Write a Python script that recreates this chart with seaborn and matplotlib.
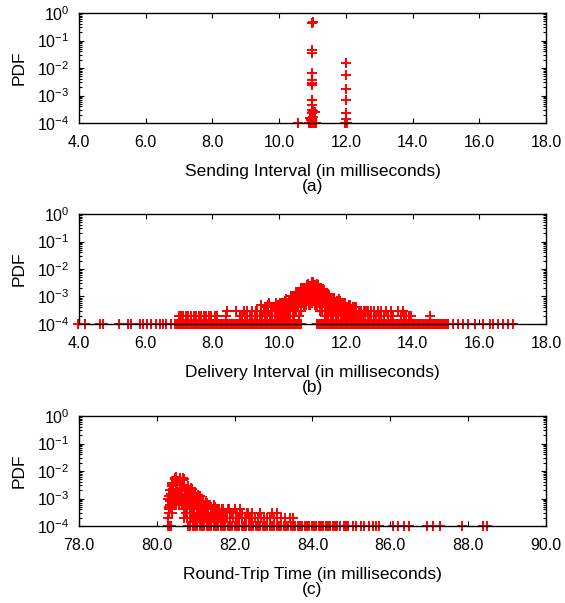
import numpy as np
import pandas as pd
import matplotlib
matplotlib.use('Agg')
import matplotlib.pyplot as plt
import seaborn as sns
from matplotlib.ticker import FormatStrFormatter, LogLocator, MultipleLocator, NullFormatter

sns.set_style('ticks')
plt.rcParams['font.family'] = ['Liberation Sans', 'DejaVu Sans']
plt.rcParams['mathtext.default'] = 'regular'
plt.rcParams['text.color'] = 'black'
plt.rcParams['axes.labelcolor'] = 'black'
plt.rcParams['xtick.color'] = 'black'
plt.rcParams['ytick.color'] = 'black'

# pdf values are given as counts of 1e-4 (the smallest pdf step)
UNIT = 1e-4

# ---- (a) sending interval ----
a_x = [11.0, 10.98, 11.02, 11.0, 11.0, 11.0, 11.0, 11.0, 11.0, 11.0, 11.0,
       10.98, 11.02, 11.0, 11.08, 11.03, 10.93, 10.97, 11.0,
       10.9, 10.95, 11.0, 11.05, 11.1, 10.56,
       12.0, 12.0, 12.0, 12.0, 12.0, 12.0, 11.97, 12.03]
a_pdf = [0.45, 0.44, 0.46, 0.045, 0.035, 0.0066, 0.0036, 0.0029, 0.0024, 0.0007, 0.00045,
         0.0003, 0.00028, 0.00023, 0.00025, 0.00017, 0.00015, 0.00013, 0.00012,
         0.0001, 0.0001, 0.0001, 0.0001, 0.0001, 0.0001,
         0.015, 0.0056, 0.0017, 0.0007, 0.00023, 0.00014, 0.0001, 0.0001]

# ---- (b) delivery interval ----
b_x_1 = [3.98, 4.18, 4.63, 4.73, 5.20, 5.47, 5.57, 5.82, 5.92, 6.04, 6.17, 6.32, 6.42,
         6.52, 6.62, 6.77, 6.87,
         6.95, 7.00, 7.05, 7.10, 7.15, 7.20, 7.25, 7.30, 7.35, 7.40, 7.45, 7.50, 7.55,
         7.60, 7.65, 7.70, 7.75, 7.80, 7.85, 7.90, 7.95, 8.00, 8.05, 8.10, 8.15, 8.20,
         8.25, 8.30, 8.35, 8.40, 8.45, 8.50, 8.55, 8.60, 8.65, 8.70, 8.75, 8.80, 8.85,
         8.90, 8.95, 9.00, 9.05, 9.10, 9.15, 9.20, 9.25, 9.30, 9.35, 9.40, 9.45, 9.50,
         9.55, 9.60, 9.65, 9.70, 9.75, 9.80, 9.85, 9.90, 9.95, 10.00, 10.05, 10.10,
         10.15, 10.20, 10.25, 10.30, 10.35, 10.40, 10.45, 10.50, 10.55, 10.60, 10.65,
         11.15, 11.20, 11.25, 11.30, 11.35, 11.40, 11.45, 11.50, 11.55, 11.60, 11.65,
         11.70, 11.75, 11.80, 11.85, 11.90, 11.95, 12.00, 12.05, 12.10, 12.15, 12.20,
         12.25, 12.30, 12.35, 12.40, 12.45, 12.50, 12.55, 12.60, 12.65, 12.70, 12.75,
         12.80, 12.85, 12.90, 12.95, 13.00, 13.05, 13.10, 13.15, 13.20, 13.25, 13.30,
         13.35, 13.40, 13.45, 13.50, 13.55, 13.60, 13.65, 13.70, 13.75, 13.80, 13.85,
         13.90, 13.95, 14.00, 14.05, 14.10, 14.15, 14.20, 14.25, 14.30, 14.35, 14.40,
         14.45, 14.50, 14.55, 14.60, 14.65, 14.70, 14.75, 14.80, 14.85, 14.90, 14.95,
         15.00,
         15.05, 15.21, 15.36, 15.51, 15.66, 15.86, 16.11, 16.31, 16.41, 16.56, 16.71,
         16.86, 17.01]
b_x_2 = [7.00, 7.05, 7.13, 7.20, 7.28, 7.37, 7.45, 7.52, 7.60, 7.67, 7.75, 7.82, 7.90,
         7.97, 8.07, 8.15, 8.42, 8.82, 8.90, 8.97, 9.05, 9.12, 9.20, 9.27, 9.35, 9.42,
         9.50, 9.57, 9.65, 9.72, 9.80, 9.87,
         12.35, 12.40, 12.46, 12.51, 12.58, 12.66, 12.72, 12.76, 12.84, 12.91, 12.98,
         13.06, 13.14, 13.26, 13.34, 13.41, 13.66, 13.74, 13.81, 13.90, 13.96, 14.51]
b_x_3 = [8.45, 8.70, 8.95, 9.05, 9.20, 9.35, 9.47, 9.55, 9.67, 9.75, 9.80,
         12.40, 12.45, 12.55, 12.60, 12.65, 12.75, 12.85, 12.95, 13.05, 13.20, 13.35,
         13.55, 13.70]
b_extra_x = [9.30, 9.47, 9.62, 9.67, 9.70, 9.85]
b_extra_n = [3, 5, 4, 5, 6, 4]
# peak bins 9.90 .. 12.30 (even) and 9.91 .. 12.29 (odd), step 0.02
b_peak_x = np.round(np.arange(9.90, 12.301, 0.02), 2)
b_peak_n = [6, 3, 2, 2, 4, 2, 2, 5, 6, 3,
            2, 2, 5, 3, 2, 6, 8, 4, 2, 2,
            6, 3, 2, 8, 10, 5, 3, 2, 9, 5,
            3, 12, 15, 8, 4, 2, 12, 6, 3, 17,
            21, 11, 6, 5, 17, 9, 5, 23, 28, 14,
            7, 5, 22, 12, 6, 29, 35, 17, 8, 5,
            22, 10, 5, 24, 27, 13, 6, 3, 15, 7,
            3, 15, 17, 8, 4, 2, 9, 5, 2, 10,
            11, 5, 3, 2, 7, 3, 2, 8, 9, 4,
            2, 2, 6, 3, 2, 6, 7, 4, 2, 2,
            5, 2, 2, 5, 6, 3, 2, 2, 4, 2,
            2, 4, 5, 3, 2, 2, 3, 2, 2, 4,
            4]
b_peak2_x = np.round(np.arange(9.91, 12.291, 0.02), 2)
b_peak2_n = [3, 2, 2, 5, 3, 2, 6, 3, 4, 2,
             2, 6, 3, 2, 7, 3, 5, 2, 2, 7,
             4, 2, 10, 4, 6, 3, 2, 10, 6, 3,
             14, 6, 9, 5, 2, 13, 8, 4, 20, 8,
             13, 7, 5, 19, 11, 6, 27, 11, 17, 9,
             5, 25, 15, 7, 34, 14, 21, 10, 5, 26,
             14, 6, 28, 11, 16, 8, 4, 18, 9, 4,
             18, 7, 10, 5, 2, 11, 6, 3, 12, 4,
             6, 3, 2, 8, 4, 2, 9, 4, 5, 3,
             2, 7, 4, 2, 8, 3, 4, 2, 2, 5,
             3, 2, 6, 2, 4, 2, 2, 4, 2, 2,
             5, 2, 3, 2, 2, 4, 2, 2, 4, 2]

# ---- (c) round-trip time ----
c_x_1 = [80.28, 80.32, 80.36,
         80.80, 80.86, 80.92, 80.98, 81.04, 81.10, 81.16, 81.22, 81.28, 81.34, 81.40,
         81.46, 81.52, 81.58, 81.64, 81.70, 81.76, 81.82, 81.88, 81.94, 82.00, 82.06,
         82.12, 82.18, 82.24, 82.30, 82.36, 82.42, 82.48, 82.54, 82.60, 82.66, 82.72,
         82.78, 82.84, 82.90, 82.96, 83.02, 83.08, 83.14, 83.20, 83.26, 83.32, 83.38,
         83.44, 83.50, 83.56, 83.62, 83.68, 83.74, 83.80, 83.86, 83.92, 83.98, 84.04,
         84.10, 84.16, 84.22, 84.28, 84.34, 84.40, 84.46, 84.52, 84.58, 84.64, 84.70,
         84.80, 84.86, 84.92, 85.05, 85.12, 85.25, 85.32, 85.45, 85.55, 85.62, 85.72,
         86.08, 86.21, 86.34, 86.47, 86.94, 87.11, 87.28, 87.84, 88.39, 88.48]
c_x_2 = [80.30, 80.84, 80.90, 80.96, 81.02, 81.08, 81.14, 81.20, 81.26, 81.32, 81.38,
         81.44, 81.50, 81.56, 81.62, 81.68, 81.74, 81.80, 81.88, 81.96, 82.04, 82.12,
         82.20, 82.28, 82.36, 82.44, 82.52, 82.60, 82.68, 82.76, 82.84, 82.92, 83.00,
         83.10, 83.18, 83.30, 83.42, 83.50]
c_x_3 = [80.31, 81.62, 81.75, 81.88, 82.05, 82.18, 82.31, 82.45, 82.65, 82.95, 83.08]
c_x_4 = [81.40, 81.55, 81.70, 81.85, 82.00, 82.14]
c_low_x = [80.32, 80.33, 80.34, 80.36, 80.38, 80.40,
           80.69, 80.72, 80.75, 80.78, 80.81, 80.84, 80.87, 80.90, 80.93, 80.96,
           80.99, 81.02, 81.05, 81.08, 81.11, 81.14, 81.17, 81.20,
           81.84, 81.90, 81.96, 82.02, 82.08, 82.14, 82.20, 82.26, 82.34, 82.42]
c_low_n = [5, 8, 4, 10, 6, 13,
           4, 8, 3, 6, 12, 5, 9, 3, 7, 4,
           10, 5, 3, 6, 4, 8, 3, 5,
           4, 3, 3, 4, 2, 3, 3, 2, 3, 2]
c_mid_x = [80.305, 80.335, 80.365, 80.395, 80.425, 80.455, 80.485, 80.515, 80.545,
           80.575, 80.605, 80.635, 80.665, 80.695, 80.725, 80.755, 80.785, 80.815,
           80.845, 80.875, 80.905, 80.935, 80.965, 80.995, 81.025, 81.055, 81.085,
           81.115, 81.145, 81.175, 81.205, 81.235, 81.265]
c_mid_n = [4, 20, 15, 28, 9, 14, 22, 9, 44,
           13, 18, 9, 30, 8, 18, 4, 13, 7,
           16, 4, 8, 14, 3, 6, 10, 4, 8,
           3, 5, 7, 3, 5, 4]
# peak bins 80.30 .. 81.80 (even) and 80.31 .. 81.79 (odd), step 0.02
c_peak_x = np.round(np.arange(80.30, 81.801, 0.02), 2)
c_peak_n = [10, 12, 10, 5, 3, 35, 18, 10, 6, 50,
            62, 32, 17, 8, 6, 48, 23, 11, 6, 46,
            50, 23, 11, 5, 2, 24, 11, 5, 2, 20,
            22, 10, 5, 2, 2, 11, 5, 3, 2, 11,
            12, 6, 3, 2, 2, 6, 3, 2, 2, 6,
            7, 4, 2, 2, 2, 4, 2, 2, 2, 5,
            5, 3, 2, 2, 2, 3, 2, 2, 2, 4,
            4, 2, 2, 2, 2, 3]
c_peak2_x = np.round(np.arange(80.31, 81.791, 0.02), 2)
c_peak2_n = [10, 10, 6, 4, 38, 23, 12, 6, 58, 6,
             38, 20, 10, 6, 56, 30, 14, 7, 56, 2,
             29, 14, 6, 3, 28, 15, 6, 3, 25, 2,
             13, 6, 3, 2, 13, 7, 3, 2, 13, 2,
             7, 3, 2, 2, 7, 4, 2, 2, 8, 2,
             4, 2, 2, 2, 5, 3, 2, 2, 6, 2,
             3, 2, 2, 2, 4, 2, 2, 2, 4, 2,
             2, 2, 2, 2, 3]


def frame(parts):
    xs, ys = [], []
    for x, n in parts:
        xs.extend(list(x))
        ys.extend([v * UNIT for v in n])
    return pd.DataFrame({'x': xs, 'pdf': ys})


df_a = pd.DataFrame({'x': a_x, 'pdf': a_pdf})
df_b = frame([(b_x_1, [1] * len(b_x_1)), (b_x_2, [2] * len(b_x_2)),
              (b_x_3, [3] * len(b_x_3)), (b_extra_x, b_extra_n),
              (b_peak_x, b_peak_n), (b_peak2_x, b_peak2_n)])
df_c = frame([(c_x_1, [1] * len(c_x_1)), (c_x_2, [2] * len(c_x_2)),
              (c_x_3, [3] * len(c_x_3)), (c_x_4, [4] * len(c_x_4)),
              (c_low_x, c_low_n), (c_mid_x, c_mid_n),
              (c_peak_x, c_peak_n), (c_peak2_x, c_peak2_n)])

panels = [
    (df_a, (4, 18), 'Sending Interval (in milliseconds)\n(a)', 0.796),
    (df_b, (4, 18), 'Delivery Interval (in milliseconds)\n(b)', 0.4627),
    (df_c, (78, 90), 'Round-Trip Time (in milliseconds)\n(c)', 0.1277),
]

fig = plt.figure(figsize=(5.65, 6.03), dpi=100)
FS = 11.5
LFS = 12.5

for df, xlim, label, bottom in panels:
    ax = fig.add_axes([0.1398, bottom, 0.8265, 0.1824])
    sns.scatterplot(data=df, x='x', y='pdf', marker='+', color='red',
                    edgecolor='red', s=60, linewidth=1.4, clip_on=False,
                    legend=False, ax=ax)
    ax.set_yscale('log')
    ax.set_ylim(1e-4, 1)
    ax.set_xlim(*xlim)
    ax.xaxis.set_major_locator(MultipleLocator(2))
    ax.xaxis.set_major_formatter(FormatStrFormatter('%.1f'))
    ax.yaxis.set_major_locator(LogLocator(base=10, numticks=10))
    ax.yaxis.set_minor_locator(LogLocator(base=10, subs=np.arange(2, 10), numticks=10))
    ax.yaxis.set_minor_formatter(NullFormatter())
    ax.tick_params(which='both', direction='in', top=True, right=True,
                   labelsize=FS, width=0.8, colors='black')
    ax.tick_params(which='major', length=3.6, pad=7)
    ax.tick_params(axis='x', which='major', pad=8.5)
    ax.tick_params(which='minor', length=2)
    for sp in ax.spines.values():
        sp.set_linewidth(1.0)
        sp.set_color('black')
    ax.set_xlabel(label, fontsize=LFS, labelpad=10, linespacing=1.05)
    ax.set_ylabel('PDF', fontsize=LFS, labelpad=7.5)

fig.savefig('out.png', dpi=100)
